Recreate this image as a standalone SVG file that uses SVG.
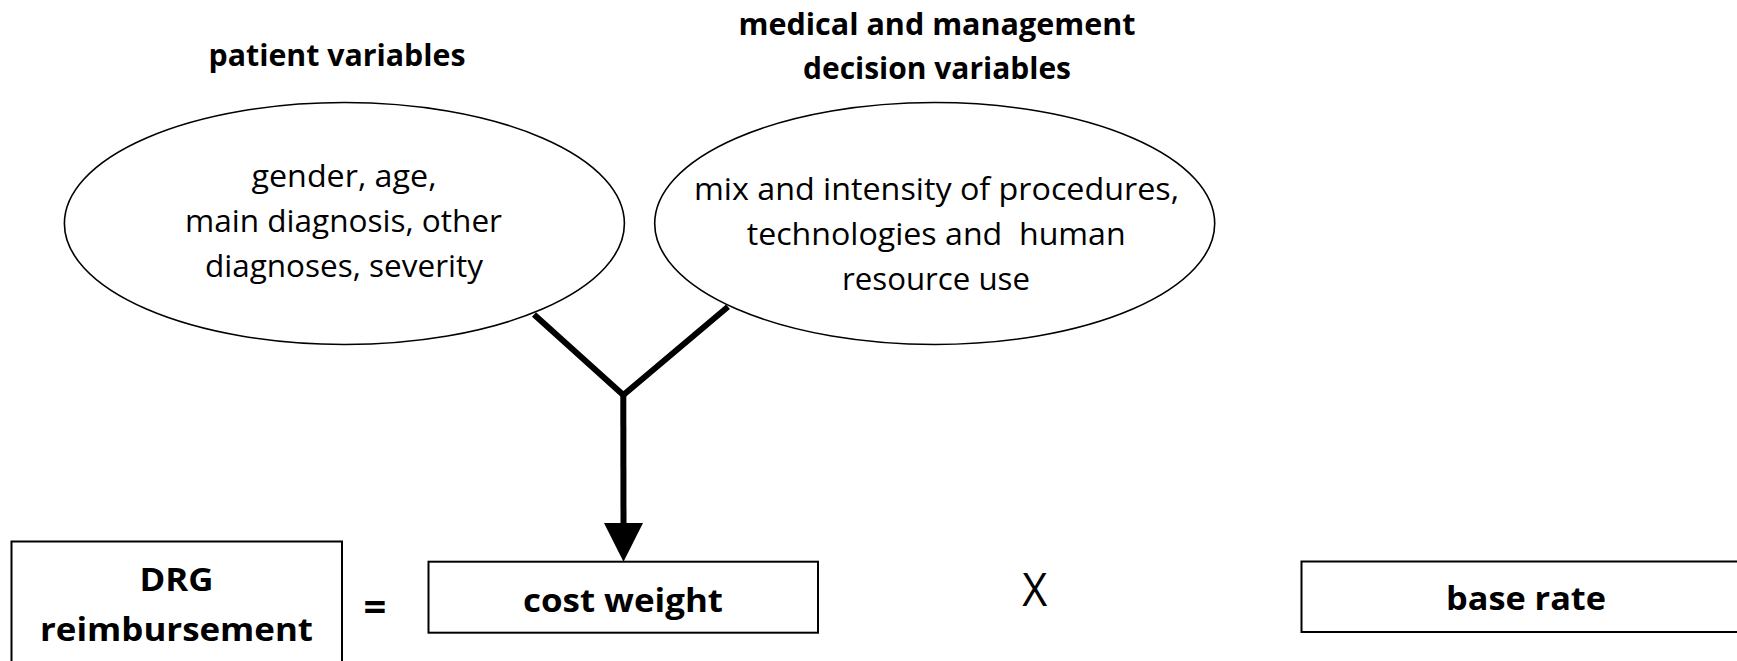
<svg xmlns="http://www.w3.org/2000/svg" width="1737" height="661" viewBox="0 0 1737 661">
<style>
  .bg { fill: #ffffff; }
  .ell { fill: #ffffff; stroke: #000000; stroke-width: 1.6; }
  .box { fill: #ffffff; stroke: #000000; stroke-width: 2; }
  .t { font-family: "Open Sans", "Liberation Sans", sans-serif; font-size: 30.5px; fill: #000000; text-anchor: middle; white-space: pre; }
  .h { font-family: "Open Sans", "Liberation Sans", sans-serif; font-size: 29.5px; font-weight: bold; fill: #000000; text-anchor: middle; }
  .b { font-family: "Open Sans", "Liberation Sans", sans-serif; font-size: 33px; font-weight: bold; fill: #000000; text-anchor: middle; }
  .op { font-family: "Open Sans", "Liberation Sans", sans-serif; fill: #000000; text-anchor: middle; }
  .conn { fill: none; stroke: #000000; stroke-width: 6; }
</style>
<rect class="bg" x="0" y="0" width="1737" height="661"/>

<g id="heading-patient">
  <text class="h" x="337" y="66" textLength="257" lengthAdjust="spacingAndGlyphs">patient variables</text>
</g>
<g id="heading-medical">
  <text class="h" x="937" y="35" textLength="397" lengthAdjust="spacingAndGlyphs">medical and management</text>
  <text class="h" x="937" y="78.5" textLength="268" lengthAdjust="spacingAndGlyphs">decision variables</text>
</g>

<g id="node-patient">
  <ellipse class="ell" cx="344.4" cy="223.5" rx="280" ry="121"/>
  <text class="t" x="344" y="187" textLength="185" lengthAdjust="spacingAndGlyphs">gender, age,</text>
  <text class="t" x="343.5" y="232" textLength="317" lengthAdjust="spacingAndGlyphs">main diagnosis, other</text>
  <text class="t" x="344" y="277" textLength="278" lengthAdjust="spacingAndGlyphs">diagnoses, severity</text>
</g>

<g id="node-medical">
  <ellipse class="ell" cx="934.7" cy="223.5" rx="280" ry="121"/>
  <text class="t" x="936.5" y="200" textLength="485" lengthAdjust="spacingAndGlyphs">mix and intensity of procedures,</text>
  <text class="t" x="936.2" y="245" textLength="379" lengthAdjust="spacingAndGlyphs">technologies and  human</text>
  <text class="t" x="936" y="290" textLength="188" lengthAdjust="spacingAndGlyphs">resource use</text>
</g>

<g id="connectors">
  <polyline class="conn" points="534,314.6 623.3,395 728,306.7"/>
  <line class="conn" x1="623.3" y1="395" x2="623.5" y2="525"/>
  <polygon points="604,523 643,523 623.5,561.7" fill="#000000"/>
</g>

<g id="node-drg">
  <rect class="box" x="11.5" y="541.5" width="330.5" height="160"/>
  <text class="b" x="176.5" y="591" textLength="74" lengthAdjust="spacingAndGlyphs">DRG</text>
  <text class="b" x="176.5" y="641" textLength="273" lengthAdjust="spacingAndGlyphs">reimbursement</text>
</g>

<g id="op-equals">
  <text class="op" x="375" y="621" font-size="40" font-weight="bold">=</text>
</g>

<g id="node-cost-weight">
  <rect class="box" x="428.5" y="561.7" width="389.5" height="71"/>
  <text class="b" x="623" y="612" textLength="200" lengthAdjust="spacingAndGlyphs">cost weight</text>
</g>

<g id="op-times">
  <text class="op" x="1034.7" y="606" font-size="46" textLength="25" lengthAdjust="spacingAndGlyphs">X</text>
</g>

<g id="node-base-rate">
  <rect class="box" x="1301.5" y="561.5" width="460" height="70.5"/>
  <text class="b" x="1526" y="609.5" textLength="160" lengthAdjust="spacingAndGlyphs">base rate</text>
</g>
</svg>
